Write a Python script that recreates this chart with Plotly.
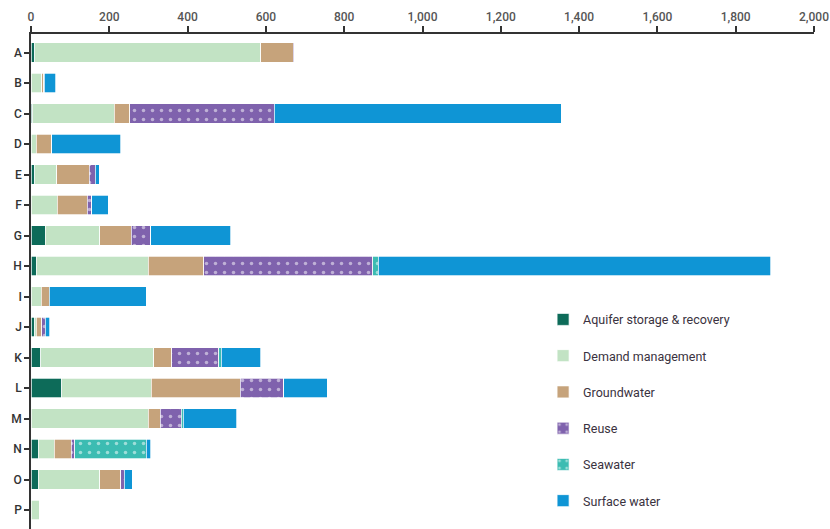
import plotly.graph_objects as go

categories = ["A", "B", "C", "D", "E", "F", "G", "H", "I", "J", "K", "L", "M", "N", "O", "P"]

aquifer_storage = [10, 0, 5, 0, 10, 0, 36, 13, 0, 10, 25, 79, 0, 18, 18, 0]
demand_management = [577, 28, 208, 14, 56, 67, 139, 286, 26, 4, 289, 228, 299, 42, 157, 21]
groundwater = [83, 4, 39, 39, 83, 77, 81, 142, 20, 14, 46, 227, 31, 43, 54, 0]
reuse = [3, 2, 369, 0, 15, 11, 50, 432, 0, 8, 120, 111, 54, 9, 9, 0]
seawater = [0, 0, 0, 0, 0, 0, 0, 14, 0, 0, 6, 0, 5, 182, 0, 0]
surface_water = [0, 29, 734, 176, 10, 42, 204, 1003, 248, 12, 101, 112, 136, 12, 21, 0]

x_ticks = [0, 200, 400, 600, 800, 1000, 1200, 1400, 1600, 1800, 2000]

series = [
    ("Aquifer storage & recovery", aquifer_storage, "#0d6b59", None),
    ("Demand management", demand_management, "#c2e3c4", None),
    ("Groundwater", groundwater, "#c6a37b", None),
    ("Reuse", reuse, "#7f62ad", "dots"),
    ("Seawater", seawater, "#3cbcb2", "dots"),
    ("Surface water", surface_water, "#0f95d5", None),
]

fig = go.Figure()
for i, (name, vals, color, pat) in enumerate(series):
    marker = dict(color=color, line=dict(color="rgba(255,255,255,0.9)", width=0.8))
    if pat:
        marker["pattern"] = dict(shape=".", fgcolor="white", bgcolor=color,
                                 size=9, solidity=0.12, fillmode="overlay")
    fig.add_trace(go.Bar(
        y=categories, x=vals, name=name, orientation="h",
        marker=marker, width=0.64, legendgroup=f"g{i}",
    ))

fig.update_layout(
    barmode="stack",
    width=830, height=529,
    margin=dict(l=31, r=16, t=34, b=0, autoexpand=False),
    plot_bgcolor="white", paper_bgcolor="white",
    font=dict(family="Roboto", size=12, color="#444"),
    showlegend=True,
    legend=dict(
        x=0.654, y=0.453, xanchor="left", yanchor="top",
        tracegroupgap=17,
        font=dict(family="Roboto", size=12.5, color="#3a3240"),
        bgcolor="rgba(0,0,0,0)",
    ),
    bargap=0.36,
)

fig.update_xaxes(
    side="top", range=[0, 2000], tickvals=x_ticks,
    ticktext=[f"{v:,}" for v in x_ticks],
    showgrid=False, zeroline=False, automargin=False,
    showline=True, linecolor="#333", linewidth=1.5,
    ticks="outside", ticklen=6, tickcolor="#333", tickwidth=1.5,
    tickfont=dict(family="Roboto", size=12, color="#555", weight=500),
)
fig.update_yaxes(
    categoryorder="array", categoryarray=categories,
    range=[15.62, -0.61], automargin=False,
    showgrid=False, zeroline=False,
    showline=True, linecolor="#333", linewidth=1.5,
    ticks="outside", ticklen=5, tickcolor="#333", tickwidth=1.5,
    tickfont=dict(family="Roboto", size=12, color="#333", weight=500),
)

fig.write_html(
    "out.html",
    config={"displayModeBar": False},
    post_script="document.body.style.margin='0';document.body.style.overflow='hidden';",
)
